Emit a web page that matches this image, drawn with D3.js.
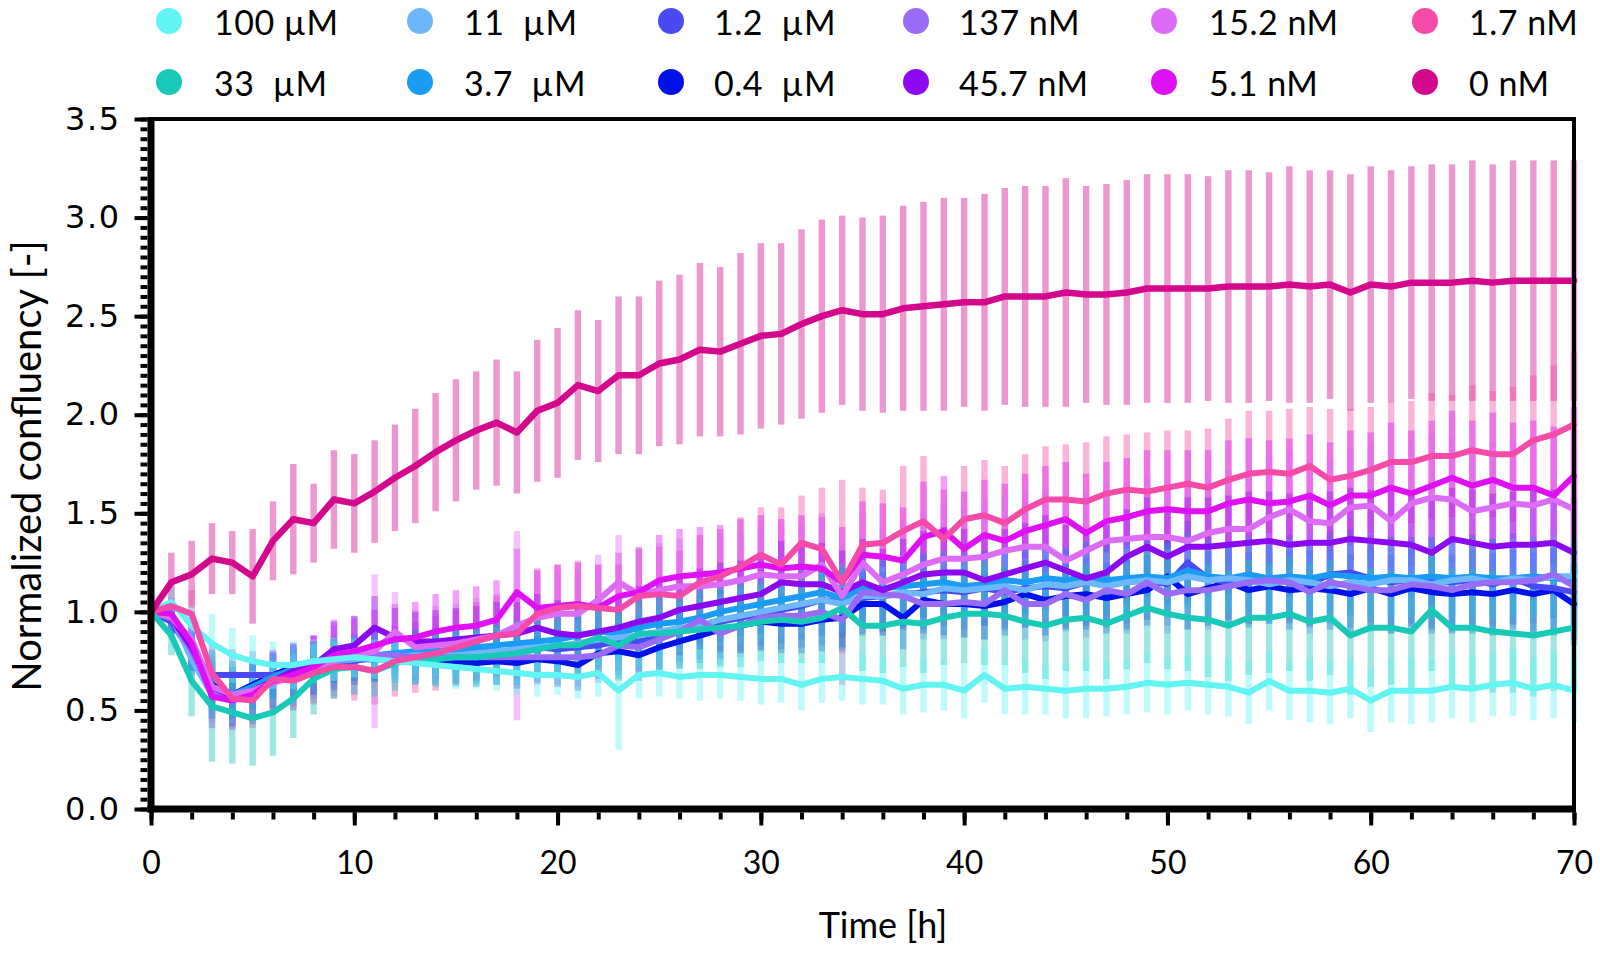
<!DOCTYPE html>
<html><head><meta charset="utf-8">
<script src="https://cdn.jsdelivr.net/npm/d3@7"></script>
<style>
html,body{margin:0;padding:0;background:#fff;}
svg{display:block;}
text{white-space:pre;}
</style></head><body>
<svg id="chart" width="1600" height="955"></svg>
<script>
const hours = [0,1,2,3,4,5,6,7,8,9,10,11,12,13,14,15,16,17,18,19,20,21,22,23,24,25,26,27,28,29,30,31,32,33,34,35,36,37,38,39,40,41,42,43,44,45,46,47,48,49,50,51,52,53,54,55,56,57,58,59,60,61,62,63,64,65,66,67,68,69,70];
const seriesNames = ["100 µM","33  µM","11  µM","3.7  µM","1.2  µM","0.4  µM","137 nM","45.7 nM","15.2 nM","5.1 nM","1.7 nM","0 nM"];
const seriesColors = ["#62f4f2","#18c9b8","#6cb8fa","#1a9cf5","#4a4af2","#0012e8","#9a6cf6","#8c08f0","#dc6cf6","#e010f5","#f54aa8","#d4088c"];
const xTickLabels = ["0","10","20","30","40","50","60","70"];
const yTickLabels = ["0.0","0.5","1.0","1.5","2.0","2.5","3.0","3.5"];

const v100 = [1.00,1.05,0.93,0.84,0.78,0.75,0.73,0.73,0.75,0.76,
 0.77,0.76,0.75,0.74,0.73,0.72,0.71,0.70,0.69,0.68,
 0.68,0.67,0.69,0.60,0.68,0.69,0.67,0.68,0.68,0.67,
 0.66,0.66,0.63,0.66,0.67,0.66,0.65,0.61,0.63,0.63,
 0.60,0.68,0.61,0.62,0.61,0.60,0.61,0.61,0.62,0.64,
 0.63,0.64,0.63,0.62,0.59,0.65,0.60,0.60,0.59,0.61,
 0.55,0.60,0.60,0.60,0.62,0.61,0.63,0.64,0.61,0.63,0.60];
const e100 = [0,0.08,0.10,0.15,0.14,0.13,0.12,0.12,0.11,0.11,
 0.10,0.10,0.11,0.10,0.10,0.11,0.10,0.10,0.11,0.11,
 0.10,0.11,0.12,0.30,0.12,0.12,0.11,0.13,0.12,0.12,
 0.13,0.12,0.13,0.12,0.12,0.13,0.12,0.13,0.14,0.13,
 0.14,0.14,0.13,0.14,0.13,0.14,0.15,0.14,0.14,0.15,
 0.15,0.14,0.15,0.15,0.16,0.15,0.15,0.16,0.16,0.15,
 0.16,0.16,0.17,0.16,0.16,0.17,0.16,0.17,0.16,0.17,0.16];

const v33 = [1.00,0.88,0.65,0.52,0.49,0.46,0.49,0.56,0.66,0.71,
 0.72,0.70,0.74,0.76,0.76,0.77,0.77,0.78,0.79,0.81,
 0.83,0.83,0.87,0.83,0.89,0.89,0.90,0.91,0.92,0.93,
 0.95,0.96,0.95,0.97,1.02,0.93,0.93,0.95,0.94,0.97,
 0.99,0.99,0.98,0.95,0.93,0.96,0.97,0.94,0.98,1.02,
 0.99,0.97,0.96,0.93,0.97,0.97,0.99,0.95,0.97,0.88,
 0.92,0.92,0.90,1.01,0.92,0.92,0.90,0.89,0.88,0.90,0.92];
const e33 = [0,0.10,0.18,0.28,0.26,0.24,0.22,0.20,0.18,0.15,
 0.14,0.13,0.14,0.13,0.14,0.15,0.14,0.15,0.16,0.15,
 0.16,0.17,0.16,0.18,0.18,0.19,0.18,0.20,0.20,0.21,
 0.20,0.22,0.21,0.23,0.22,0.23,0.24,0.23,0.25,0.24,
 0.25,0.26,0.25,0.26,0.27,0.26,0.27,0.28,0.27,0.28,
 0.28,0.27,0.29,0.28,0.29,0.28,0.29,0.30,0.29,0.30,
 0.30,0.29,0.30,0.31,0.30,0.30,0.31,0.30,0.31,0.30,0.31];

const v11 = [1.00,0.98,0.76,0.58,0.55,0.59,0.64,0.69,0.73,0.75,
 0.76,0.77,0.77,0.78,0.78,0.78,0.79,0.80,0.81,0.82,
 0.83,0.84,0.86,0.87,0.88,0.90,0.92,0.93,0.96,0.98,
 1.00,1.02,1.04,1.06,1.04,1.08,1.08,1.10,1.09,1.12,
 1.11,1.12,1.13,1.11,1.14,1.13,1.15,1.13,1.15,1.16,
 1.15,1.18,1.16,1.17,1.16,1.14,1.16,1.15,1.13,1.15,
 1.14,1.16,1.16,1.14,1.16,1.17,1.15,1.17,1.16,1.18,1.18];
const e11 = [0,0.07,0.10,0.12,0.12,0.11,0.11,0.10,0.10,0.10,
 0.10,0.10,0.11,0.10,0.11,0.11,0.11,0.12,0.11,0.12,
 0.12,0.12,0.13,0.12,0.13,0.13,0.13,0.14,0.13,0.14,
 0.14,0.14,0.15,0.14,0.15,0.15,0.15,0.16,0.15,0.16,
 0.16,0.16,0.17,0.16,0.17,0.16,0.17,0.17,0.17,0.18,
 0.17,0.18,0.18,0.17,0.18,0.18,0.18,0.19,0.18,0.19,
 0.18,0.19,0.19,0.18,0.19,0.19,0.19,0.20,0.19,0.20,0.20];

const v37 = [1.00,0.99,0.80,0.62,0.58,0.62,0.67,0.71,0.74,0.76,
 0.77,0.78,0.79,0.80,0.80,0.81,0.82,0.83,0.84,0.85,
 0.86,0.88,0.90,0.89,0.92,0.94,0.95,0.97,1.00,1.02,
 1.04,1.06,1.08,1.10,1.07,1.12,1.12,1.13,1.14,1.15,
 1.13,1.14,1.16,1.15,1.17,1.16,1.18,1.16,1.17,1.18,
 1.17,1.21,1.18,1.17,1.19,1.17,1.18,1.17,1.19,1.18,
 1.17,1.18,1.17,1.18,1.17,1.18,1.17,1.17,1.18,1.17,1.16];
const e37 = [0,0.07,0.10,0.13,0.12,0.12,0.11,0.11,0.10,0.10,
 0.11,0.10,0.11,0.11,0.11,0.12,0.11,0.12,0.12,0.12,
 0.13,0.12,0.13,0.13,0.13,0.14,0.13,0.14,0.14,0.14,
 0.15,0.14,0.15,0.15,0.15,0.16,0.15,0.16,0.16,0.16,
 0.17,0.16,0.17,0.17,0.17,0.17,0.18,0.17,0.18,0.18,
 0.18,0.19,0.18,0.18,0.19,0.18,0.19,0.19,0.19,0.19,
 0.19,0.20,0.19,0.20,0.19,0.20,0.20,0.19,0.20,0.20,0.20];

const v12 = [1.00,0.95,0.79,0.68,0.68,0.68,0.68,0.69,0.70,0.72,
 0.75,0.77,0.78,0.78,0.79,0.79,0.80,0.80,0.80,0.82,
 0.81,0.82,0.83,0.85,0.85,0.87,0.90,0.92,0.95,0.97,
 0.99,1.01,1.03,1.06,1.05,1.07,1.08,1.09,1.10,1.11,
 1.10,1.12,1.10,1.12,1.13,1.12,1.15,1.14,1.15,1.16,
 1.14,1.25,1.17,1.15,1.16,1.15,1.17,1.14,1.19,1.20,
 1.17,1.15,1.16,1.15,1.15,1.16,1.14,1.17,1.13,1.12,1.10];
const e12 = [0,0.08,0.11,0.13,0.13,0.12,0.12,0.12,0.12,0.12,
 0.12,0.13,0.12,0.13,0.13,0.13,0.14,0.13,0.14,0.14,
 0.14,0.15,0.14,0.15,0.15,0.16,0.15,0.16,0.16,0.17,
 0.16,0.17,0.17,0.18,0.17,0.18,0.18,0.18,0.19,0.18,
 0.19,0.19,0.19,0.20,0.19,0.20,0.20,0.20,0.21,0.20,
 0.21,0.21,0.21,0.21,0.22,0.21,0.22,0.22,0.22,0.22,
 0.22,0.23,0.22,0.23,0.22,0.23,0.23,0.23,0.23,0.24,0.24];

const v04 = [1.00,0.97,0.80,0.63,0.58,0.63,0.68,0.72,0.74,0.75,
 0.76,0.76,0.76,0.75,0.75,0.75,0.74,0.75,0.74,0.76,
 0.75,0.73,0.79,0.80,0.78,0.82,0.85,0.88,0.91,0.93,
 0.95,0.94,0.94,0.96,0.97,1.04,1.04,0.97,1.06,1.04,
 1.04,1.03,1.05,1.09,1.06,1.08,1.09,1.07,1.09,1.11,
 1.18,1.09,1.12,1.15,1.11,1.13,1.11,1.12,1.11,1.09,
 1.12,1.09,1.12,1.10,1.09,1.10,1.09,1.11,1.09,1.11,1.04];
const e04 = [0,0.08,0.10,0.12,0.12,0.12,0.11,0.11,0.11,0.11,
 0.11,0.11,0.12,0.11,0.12,0.12,0.12,0.12,0.13,0.12,
 0.13,0.13,0.13,0.14,0.13,0.14,0.14,0.14,0.15,0.14,
 0.15,0.15,0.15,0.16,0.15,0.16,0.16,0.16,0.17,0.16,
 0.17,0.17,0.17,0.17,0.18,0.17,0.18,0.18,0.18,0.18,
 0.19,0.18,0.19,0.19,0.19,0.19,0.20,0.19,0.20,0.20,
 0.20,0.20,0.20,0.21,0.20,0.21,0.21,0.20,0.21,0.21,0.21];

const v137 = [1.00,0.97,0.80,0.60,0.57,0.60,0.64,0.68,0.72,0.75,
 0.77,0.78,0.78,0.77,0.77,0.77,0.77,0.77,0.77,0.77,
 0.77,0.77,0.78,0.83,0.82,0.86,0.90,0.96,0.89,0.93,
 0.97,0.98,0.98,1.00,0.96,1.10,1.09,1.08,1.04,1.04,
 1.05,1.04,1.11,1.04,1.04,1.09,1.06,1.11,1.09,1.15,
 1.09,1.11,1.11,1.13,1.15,1.16,1.15,1.10,1.15,1.13,
 1.11,1.11,1.14,1.13,1.11,1.14,1.15,1.15,1.16,1.19,1.13];
const e137 = [0,0.08,0.11,0.14,0.13,0.13,0.12,0.12,0.12,0.12,
 0.12,0.13,0.12,0.13,0.13,0.13,0.13,0.14,0.14,0.14,
 0.14,0.15,0.14,0.15,0.15,0.15,0.16,0.15,0.16,0.16,
 0.16,0.17,0.16,0.17,0.17,0.17,0.18,0.17,0.18,0.18,
 0.18,0.18,0.19,0.18,0.19,0.19,0.19,0.19,0.20,0.19,
 0.20,0.20,0.20,0.20,0.21,0.20,0.21,0.21,0.21,0.21,
 0.21,0.22,0.21,0.22,0.21,0.22,0.22,0.22,0.22,0.22,0.23];

const v457 = [1.00,0.97,0.82,0.62,0.57,0.60,0.65,0.70,0.73,0.81,
 0.83,0.92,0.87,0.85,0.85,0.86,0.87,0.88,0.89,0.92,
 0.89,0.88,0.90,0.92,0.95,0.97,1.01,1.03,1.05,1.07,
 1.09,1.15,1.14,1.14,1.10,1.15,1.11,1.15,1.19,1.20,
 1.20,1.16,1.19,1.22,1.25,1.21,1.17,1.20,1.28,1.33,
 1.28,1.33,1.33,1.34,1.35,1.36,1.34,1.35,1.35,1.37,
 1.36,1.35,1.34,1.30,1.37,1.35,1.33,1.34,1.34,1.35,1.30];
const e457 = [0,0.08,0.12,0.16,0.15,0.15,0.14,0.14,0.15,0.15,
 0.15,0.16,0.15,0.15,0.16,0.16,0.16,0.17,0.16,0.17,
 0.17,0.17,0.18,0.17,0.18,0.19,0.18,0.19,0.20,0.19,
 0.20,0.21,0.20,0.21,0.21,0.22,0.21,0.22,0.22,0.23,
 0.22,0.23,0.23,0.23,0.24,0.23,0.24,0.24,0.24,0.25,
 0.24,0.25,0.25,0.25,0.26,0.25,0.26,0.25,0.26,0.26,
 0.26,0.27,0.26,0.27,0.26,0.27,0.27,0.27,0.28,0.27,0.28];

const v152 = [1.00,0.97,0.86,0.62,0.58,0.60,0.64,0.67,0.71,0.75,
 0.78,0.80,0.90,0.82,0.83,0.84,0.86,0.88,0.93,0.97,
 0.99,0.99,1.06,1.15,1.09,1.11,1.13,1.13,1.14,1.16,
 1.19,1.18,1.18,1.24,1.08,1.25,1.15,1.19,1.24,1.27,
 1.27,1.28,1.31,1.33,1.33,1.26,1.31,1.36,1.37,1.38,
 1.38,1.36,1.40,1.42,1.42,1.48,1.52,1.46,1.45,1.53,
 1.54,1.46,1.55,1.58,1.57,1.51,1.53,1.55,1.54,1.57,1.52];
const e152 = [0,0.09,0.14,0.18,0.17,0.16,0.16,0.17,0.17,0.18,
 0.20,0.39,0.20,0.19,0.20,0.20,0.21,0.21,0.48,0.22,
 0.22,0.22,0.23,0.24,0.23,0.24,0.24,0.24,0.25,0.25,
 0.25,0.26,0.26,0.26,0.27,0.26,0.27,0.27,0.27,0.28,
 0.27,0.28,0.28,0.28,0.29,0.28,0.29,0.29,0.29,0.30,
 0.29,0.30,0.30,0.30,0.30,0.31,0.30,0.31,0.31,0.31,
 0.32,0.31,0.32,0.32,0.32,0.32,0.33,0.32,0.33,0.33,0.33];

const v51 = [1.00,0.99,0.84,0.57,0.55,0.58,0.65,0.68,0.72,0.78,
 0.80,0.83,0.86,0.87,0.90,0.92,0.93,0.96,1.10,1.02,
 1.03,1.04,1.02,1.08,1.10,1.16,1.18,1.19,1.20,1.22,
 1.24,1.22,1.23,1.22,1.15,1.29,1.28,1.26,1.38,1.41,
 1.32,1.39,1.36,1.41,1.44,1.47,1.40,1.46,1.48,1.51,
 1.52,1.51,1.51,1.55,1.57,1.55,1.56,1.59,1.54,1.59,
 1.59,1.63,1.60,1.64,1.68,1.64,1.67,1.63,1.63,1.59,1.69];
const e51 = [0,0.08,0.12,0.16,0.15,0.15,0.15,0.16,0.16,0.17,
 0.17,0.18,0.18,0.18,0.19,0.19,0.20,0.20,0.22,0.20,
 0.21,0.21,0.22,0.22,0.23,0.23,0.24,0.24,0.24,0.25,
 0.25,0.25,0.26,0.26,0.28,0.27,0.27,0.27,0.28,0.28,
 0.29,0.28,0.29,0.29,0.30,0.29,0.30,0.30,0.30,0.31,
 0.30,0.31,0.31,0.32,0.31,0.32,0.32,0.31,0.32,0.33,
 0.32,0.33,0.32,0.33,0.34,0.33,0.34,0.33,0.34,0.35,0.35];

const v17 = [1.00,1.03,0.99,0.69,0.56,0.55,0.66,0.65,0.69,0.72,
 0.72,0.70,0.75,0.77,0.79,0.82,0.85,0.88,0.89,0.99,
 1.02,1.03,1.02,1.01,1.08,1.09,1.08,1.15,1.18,1.23,
 1.29,1.24,1.35,1.32,1.15,1.34,1.35,1.41,1.46,1.37,
 1.47,1.49,1.45,1.52,1.57,1.57,1.56,1.60,1.62,1.61,
 1.63,1.65,1.63,1.67,1.70,1.71,1.70,1.74,1.67,1.69,
 1.72,1.76,1.76,1.79,1.79,1.82,1.80,1.80,1.87,1.90,1.95];
const e17 = [0,0.10,0.12,0.15,0.14,0.14,0.15,0.15,0.16,0.16,
 0.17,0.17,0.18,0.18,0.19,0.19,0.20,0.20,0.21,0.22,
 0.22,0.23,0.22,0.23,0.24,0.24,0.23,0.24,0.24,0.25,
 0.24,0.29,0.24,0.31,0.52,0.29,0.27,0.33,0.33,0.25,
 0.27,0.28,0.29,0.28,0.27,0.28,0.30,0.29,0.28,0.30,
 0.29,0.27,0.30,0.31,0.32,0.31,0.33,0.30,0.36,0.34,
 0.32,0.30,0.31,0.32,0.31,0.33,0.32,0.34,0.33,0.35,0.37];

const v0 = [1.00,1.15,1.19,1.27,1.25,1.18,1.36,1.47,1.45,1.57,
 1.55,1.61,1.68,1.74,1.81,1.87,1.92,1.96,1.91,2.02,
 2.06,2.15,2.12,2.20,2.20,2.26,2.28,2.33,2.32,2.36,
 2.40,2.41,2.46,2.50,2.53,2.51,2.51,2.54,2.55,2.56,
 2.57,2.57,2.60,2.60,2.60,2.62,2.61,2.61,2.62,2.64,
 2.64,2.64,2.64,2.65,2.65,2.65,2.66,2.65,2.66,2.62,
 2.66,2.65,2.67,2.67,2.67,2.68,2.67,2.68,2.68,2.68,2.68];
const e0 = [0,0.15,0.17,0.18,0.16,0.24,0.20,0.28,0.20,0.25,
 0.25,0.26,0.27,0.29,0.30,0.31,0.30,0.32,0.31,0.36,
 0.38,0.38,0.36,0.40,0.40,0.42,0.43,0.44,0.43,0.46,
 0.47,0.46,0.48,0.49,0.48,0.49,0.50,0.52,0.53,0.54,
 0.53,0.55,0.55,0.56,0.56,0.58,0.55,0.56,0.57,0.58,
 0.58,0.58,0.57,0.59,0.59,0.58,0.60,0.59,0.58,0.60,
 0.60,0.59,0.59,0.60,0.60,0.61,0.60,0.61,0.61,0.61,0.61];

const seriesValues = [v100,v33,v11,v37,v12,v04,v137,v457,v152,v51,v17,v0];
const seriesErrors = [e100,e33,e11,e37,e12,e04,e137,e457,e152,e51,e17,e0];

const series = seriesNames.map((name,i)=>({name, color:seriesColors[i], values:seriesValues[i], errors:seriesErrors[i], idx:i}));

const svg = d3.select("#chart");
const X0 = 151, X1 = 1574, Y0 = 809, Y1 = 119;
const x = d3.scaleLinear().domain([0,70]).range([X0,X1]);
const y = d3.scaleLinear().domain([0,3.5]).range([Y0,Y1]);

// error bars: 0 nM first (back), then others
const barOrder = [11,10,9,8,7,6,5,4,3,2,1,0];
const barOpacity = [0.42,0.42,0.3,0.3,0.3,0.3,0.34,0.36,0.4,0.4,0.42,0.42];
const gBars = svg.append("g");
barOrder.forEach(si=>{
  const s = series[si];
  gBars.append("g").selectAll("rect")
    .data(hours.map((h,j)=>({h, v:s.values[j], e:s.errors[j]})).filter(d=>d.e>0))
    .join("rect")
    .attr("x", d=>x(d.h)-3.2)
    .attr("width", 6.4)
    .attr("y", d=>y(d.v+d.e))
    .attr("height", d=>y(d.v-d.e)-y(d.v+d.e))
    .attr("fill", s.color)
    .attr("fill-opacity", barOpacity[si]);
});

// lines
const lineOrder = [5,4,3,2,6,7,8,9,1,0,10,11];
const line = d3.line().x((d,j)=>x(hours[j])).y(d=>y(d));
const gLines = svg.append("g");
lineOrder.forEach(si=>{
  const s = series[si];
  gLines.append("path")
    .attr("d", line(s.values))
    .attr("fill","none")
    .attr("stroke", s.color)
    .attr("stroke-width", si===11 ? 6.5 : 6)
    .attr("stroke-linejoin","round")
    .attr("stroke-linecap","round");
});

// frame
const gFrame = svg.append("g");
gFrame.append("line").attr("x1",X0).attr("x2",X1).attr("y1",Y1).attr("y2",Y1).attr("stroke","#000").attr("stroke-width",4);
gFrame.append("line").attr("x1",X1).attr("x2",X1).attr("y1",Y1-2).attr("y2",Y0).attr("stroke","#000").attr("stroke-width",4);

// y axis
const yMinor = d3.range(0, 71).map(i=>i*0.05);
const yMajor = [0,0.5,1,1.5,2,2.5,3,3.5];
const gy = svg.append("g").attr("transform",`translate(${X0-3.5},0)`);
gy.append("g").call(d3.axisLeft(y).tickValues(yMinor).tickSize(7).tickFormat(""))
  .call(g=>g.select(".domain").remove())
  .call(g=>g.selectAll("line").attr("stroke","#000").attr("stroke-width",4));
gy.append("g").call(d3.axisLeft(y).tickValues(yMajor).tickSize(13).tickPadding(14).tickFormat((d,i)=>yTickLabels[i]))
  .call(g=>g.select(".domain").remove())
  .call(g=>g.selectAll("line").attr("stroke","#000").attr("stroke-width",4))
  .call(g=>g.selectAll("text").attr("font-family","'DejaVu Sans', sans-serif").attr("font-size",32).attr("letter-spacing","1.5px").attr("fill","#000"));

// x axis
const xMinor = d3.range(0, 36).map(i=>i*2);
const xMajor = [0,10,20,30,40,50,60,70];
const gx = svg.append("g").attr("transform",`translate(0,${Y0+3.5})`);
gx.append("g").call(d3.axisBottom(x).tickValues(xMinor).tickSize(7).tickFormat(""))
  .call(g=>g.select(".domain").remove())
  .call(g=>g.selectAll("line").attr("stroke","#000").attr("stroke-width",4));
gx.append("g").call(d3.axisBottom(x).tickValues(xMajor).tickSize(13).tickPadding(26).tickFormat((d,i)=>xTickLabels[i]))
  .call(g=>g.select(".domain").remove())
  .call(g=>g.selectAll("line").attr("stroke","#000").attr("stroke-width",4))
  .call(g=>g.selectAll("text").attr("font-family","Lato, sans-serif").attr("font-size",32).attr("fill","#000"));

// thick left & bottom axis lines
svg.append("line").attr("x1",X0).attr("x2",X0).attr("y1",Y1-2).attr("y2",Y0+3.5).attr("stroke","#000").attr("stroke-width",7);
svg.append("line").attr("x1",X0-3.5).attr("x2",X1+2).attr("y1",Y0).attr("y2",Y0).attr("stroke","#000").attr("stroke-width",7);

// axis titles
svg.append("text").attr("transform","translate(41,466) rotate(-90)")
  .attr("text-anchor","middle").attr("font-family","Lato, sans-serif").attr("font-size",40).attr("fill","#000")
  .text("Normalized confluency [-]");
svg.append("text").attr("x",883).attr("y",938)
  .attr("text-anchor","middle").attr("font-family","Lato, sans-serif").attr("font-size",36).attr("fill","#000")
  .text("Time [h]");

// legend
const legCircleX = [169,420,671,916,1164,1425];
const legTextX = [214,464,714,959,1209,1469];
const legRowY = [21,82];
const gLeg = svg.append("g");
series.forEach((s,i)=>{
  const col = Math.floor(i/2), row = i%2;
  gLeg.append("circle").attr("cx",legCircleX[col]).attr("cy",legRowY[row]).attr("r",13).attr("fill",s.color);
  gLeg.append("text").attr("x",legTextX[col]).attr("y",legRowY[row]+14)
    .attr("font-family","Lato, sans-serif").attr("font-size",34).attr("letter-spacing","0.5px").attr("fill","#000")
    .attr("xml:space","preserve").text(s.name);
});
</script>
</body></html>
